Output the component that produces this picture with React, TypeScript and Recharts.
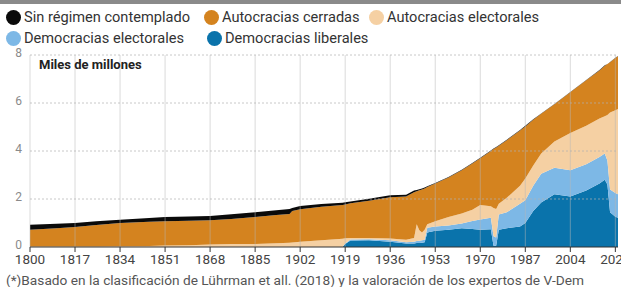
import React from "react";
import { AreaChart, Area, XAxis, YAxis, ReferenceLine } from "recharts";

const FONT = "Roboto, 'Noto Sans', sans-serif";

const ORANGE = "#d4831f";
const BEIGE = "#f5d0a3";
const LIGHT_BLUE = "#7db8e6";
const DARK_BLUE = "#0a73ab";
const BLACK = "#0a0a0a";

const years = [
	1800, 1810, 1817, 1825, 1834, 1845, 1851, 1860, 1868, 1876, 1885, 1893, 1898, 1899, 1902, 1910,
	1918, 1919, 1921, 1928, 1936, 1942, 1945, 1946, 1947, 1948, 1949, 1950, 1953, 1958, 1963, 1967,
	1970, 1974, 1975, 1976, 1977, 1980, 1985, 1987, 1990, 1993, 1998, 2004, 2010, 2015, 2017, 2018,
	2019, 2021, 2022,
];

// grosor de cada capa, miles de millones
const democraciasLiberales = [
	0, 0, 0, 0, 0, 0, 0, 0, 0, 0, 0, 0, 0, 0, 0, 0,
	0, 0.12, 0.27, 0.28, 0.22, 0.15, 0.15, 0.17, 0.17, 0.18, 0.2, 0.6, 0.68, 0.72, 0.78, 0.75,
	0.72, 0.74, 0.05, 0.05, 0.72, 0.78, 0.85, 1.0, 1.5, 1.85, 2.2, 2.1, 2.35, 2.65, 2.8, 2.6,
	1.45, 1.26, 1.22,
];
const democraciasElectorales = [
	0, 0, 0, 0, 0, 0, 0, 0, 0, 0, 0, 0, 0, 0, 0, 0,
	0, 0.03, 0.04, 0.04, 0.06, 0.05, 0.07, 0.08, 0.09, 0.1, 0.1, 0.2, 0.17, 0.18, 0.2, 0.33,
	0.43, 0.48, 0.4, 0.35, 0.63, 0.67, 0.95, 0.95, 1.05, 1.2, 1.1, 1.1, 1.1, 1.1, 1.1, 1.0,
	0.95, 0.99, 0.98,
];
const autocraciasElectorales = [
	0.02, 0.02, 0.02, 0.02, 0.03, 0.04, 0.06, 0.07, 0.1, 0.12, 0.13, 0.16, 0.18, 0.19, 0.22, 0.28,
	0.34, 0.21, 0.07, 0.06, 0.07, 0.1, 0.16, 0.7, 0.44, 0.32, 0.42, 0.15, 0.22, 0.35, 0.42, 0.47,
	0.6, 0.48, 1.17, 1.18, 0.45, 0.6, 0.75, 0.9, 0.85, 0.85, 1.1, 1.55, 1.6, 1.6, 1.55, 1.9,
	3.2, 3.45, 3.55,
];
const autocraciasCerradas = [
	0.7, 0.76, 0.81, 0.9, 0.97, 1.01, 1.01, 1.02, 1.01, 1.05, 1.12, 1.17, 1.2, 1.31, 1.35, 1.4,
	1.41, 1.41, 1.44, 1.55, 1.72, 1.8, 1.9, 1.37, 1.66, 1.8, 1.72, 1.55, 1.58, 1.65, 1.8, 1.93,
	1.95, 2.3, 2.46, 2.57, 2.42, 2.4, 2.3, 2.17, 1.9, 1.65, 1.55, 1.7, 1.9, 2.0, 2.1, 2.12,
	2.1, 2.18, 2.2,
];
const sinRegimen = [
	0.21, 0.19, 0.17, 0.15, 0.14, 0.16, 0.18, 0.18, 0.18, 0.19, 0.2, 0.2, 0.2, 0.12, 0.14, 0.11,
	0.09, 0.09, 0.08, 0.08, 0.09, 0.08, 0.07, 0.06, 0.05, 0.04, 0.04, 0.03, 0.02, 0.02, 0.02, 0.02,
	0.02, 0.02, 0.02, 0.02, 0.02, 0.02, 0.03, 0.03, 0.02, 0.01, 0.01, 0.01, 0.01, 0.03, 0.02, 0.01,
	0.01, 0.01, 0.01,
];

const xTicks = [1800, 1817, 1834, 1851, 1868, 1885, 1902, 1919, 1936, 1953, 1970, 1987, 2004, 2021];
const yTicks = [0, 2, 4, 6, 8];

const legendItems = [
	{ name: "Sin régimen contemplado", color: BLACK, x: 6, y: 17 },
	{ name: "Autocracias cerradas", color: ORANGE, x: 204, y: 17 },
	{ name: "Autocracias electorales", color: BEIGE, x: 369, y: 17 },
	{ name: "Democracias electorales", color: LIGHT_BLUE, x: 6, y: 38 },
	{ name: "Democracias liberales", color: DARK_BLUE, x: 207, y: 38 },
];

const data = years.map((year, i) => ({
	year,
	lib: democraciasLiberales[i],
	ele: democraciasElectorales[i],
	ea: autocraciasElectorales[i],
	ca: autocraciasCerradas[i],
	nr: sinRegimen[i],
}));

export default function App() {
	return (
		<div
			style={{
				position: "absolute",
				left: 0,
				top: 0,
				width: 621,
				height: 287,
				background: "#fff",
				fontFamily: FONT,
				overflow: "hidden",
			}}>
			<div style={{ position: "absolute", left: 0, top: 0, width: 621, height: 4, background: "#8a8a8a" }} />

			{/* leyenda */}
			{legendItems.map(item => (
				<div
					key={item.name}
					style={{
						position: "absolute",
						left: item.x,
						top: item.y - 9,
						height: 18,
						display: "flex",
						alignItems: "center",
						fontSize: 14.6,
						color: "#333",
						whiteSpace: "nowrap",
					}}>
					<span
						style={{
							display: "inline-block",
							width: 15,
							height: 15,
							borderRadius: "50%",
							background: item.color,
							marginRight: 3,
						}}
					/>
					{item.name}
				</div>
			))}

			<div style={{ position: "absolute", left: 0, top: 0 }}>
				<AreaChart
					width={621}
					height={287}
					data={data}
					margin={{ top: 55, right: 3, bottom: 10, left: 0 }}>
					<XAxis
						dataKey='year'
						type='number'
						domain={[1800, 2022]}
						ticks={xTicks}
						interval={0}
						height={30}
						axisLine={{ stroke: "#333" }}
						tickLine={{ stroke: "#333" }}
						tickSize={5}
						tick={{ fill: "#444", fontSize: 13.5, fontFamily: FONT }}
					/>
					<YAxis
						type='number'
						domain={[0, 8]}
						ticks={yTicks}
						width={30}
						axisLine={false}
						tickLine={false}
						tick={{ fill: "#8a8a8a", fontSize: 12, fontFamily: FONT, dy: -2 }}
					/>
					<Area type='linear' dataKey='lib' stackId='1' stroke='none' fill={DARK_BLUE} fillOpacity={1} isAnimationActive={false} />
					<Area type='linear' dataKey='ele' stackId='1' stroke='none' fill={LIGHT_BLUE} fillOpacity={1} isAnimationActive={false} />
					<Area type='linear' dataKey='ea' stackId='1' stroke='none' fill={BEIGE} fillOpacity={1} isAnimationActive={false} />
					<Area type='linear' dataKey='ca' stackId='1' stroke='none' fill={ORANGE} fillOpacity={1} isAnimationActive={false} />
					<Area type='linear' dataKey='nr' stackId='1' stroke='none' fill={BLACK} fillOpacity={1} isAnimationActive={false} />
					{/* rejilla por encima de las áreas */}
					{xTicks.map(t => (
						<ReferenceLine key={`v${t}`} x={t} stroke='#b8b8b8' strokeOpacity={0.5} />
					))}
					{yTicks.slice(1).map(t => (
						<ReferenceLine key={`h${t}`} y={t} stroke='#b0b0b0' strokeOpacity={0.7} strokeDasharray='2 2' />
					))}
				</AreaChart>
			</div>

			<div
				style={{
					position: "absolute",
					left: 39,
					top: 57,
					fontSize: 13,
					fontWeight: 700,
					color: "#222",
				}}>
				Miles de millones
			</div>

			<div
				style={{
					position: "absolute",
					left: 6,
					top: 272,
					fontSize: 13.7,
					color: "#555",
					whiteSpace: "nowrap",
				}}>
				(*)Basado en la clasificación de Lührman et all. (2018) y la valoración de los expertos de V-Dem
			</div>
		</div>
	);
}
